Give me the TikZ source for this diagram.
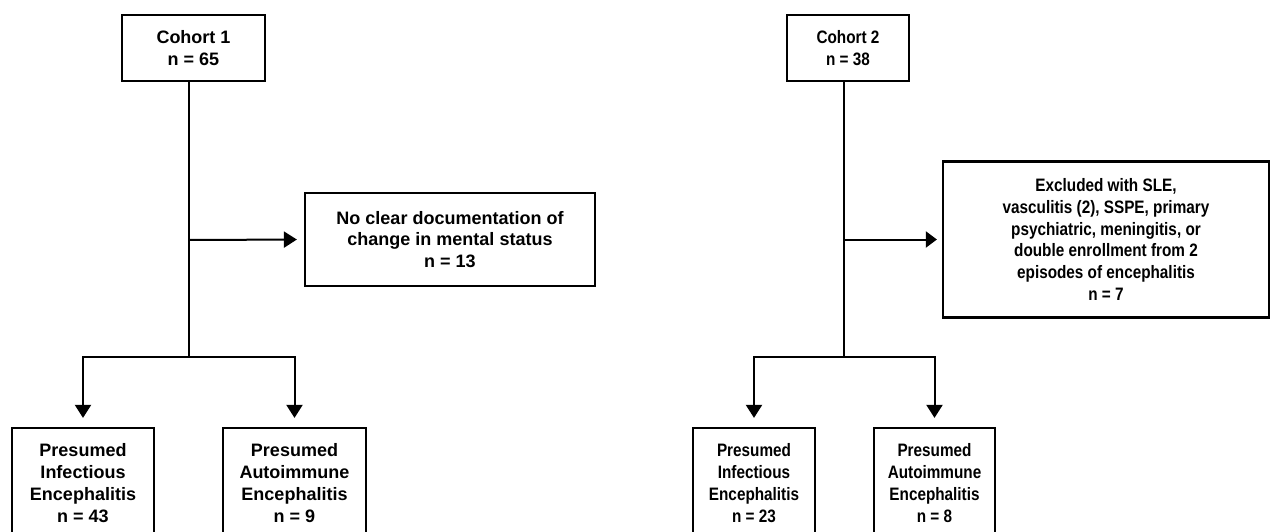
\documentclass[tikz,border=0pt]{standalone}
\usepackage{fontspec}
\setmainfont{Liberation Sans}
\newfontfamily\condfont[FakeStretch=0.85]{Liberation Sans}
\usetikzlibrary{arrows.meta}
\tikzset{
  box/.style={draw=black, line width=2.2pt, rectangle, align=center, inner sep=0pt,
    font=\fontsize{18}{21.8}\selectfont\bfseries},
  cbox/.style={box, font=\condfont\fontsize{18}{21.8}\selectfont\bfseries},
  link/.style={draw=black, line width=2pt},
  arr/.style={link, -{Triangle[width=16pt,length=13pt]}},
  carr/.style={link, -{Triangle[width=16pt,length=11pt]}}
}
\begin{document}
\begin{tikzpicture}[x=1pt,y=-1pt]
\useasboundingbox (0,0) rectangle (1272,532);
\clip (0,0) rectangle (1272,532);
% ---------- Cohort 1 ----------
\node[box, minimum width=143pt, minimum height=66pt] (c1) at (193.5,48) {Cohort 1\\n = 65};
\node[box, minimum width=290pt, minimum height=93pt] (x1) at (450,239.5) {No clear documentation of\\change in mental status\\n = 13};
\node[box, minimum width=142pt, minimum height=110pt] (a1) at (83,483) {Presumed\\Infectious\\Encephalitis\\n = 43};
\node[box, minimum width=143pt, minimum height=110pt] (b1) at (294.5,483) {Presumed\\Autoimmune\\Encephalitis\\n = 9};
\coordinate (k1) at (189,240);
\coordinate (j1) at (189,357);
\draw[link] (c1.south -| j1) -- (j1);
\draw[arr, shorten >=7pt] (k1) -- (x1.west);
\draw[arr, shorten >=9pt] (j1) -| (a1.north);
\draw[arr, shorten >=9pt] (j1) -| (b1.north);
% ---------- Cohort 2 ----------
\node[cbox, minimum width=122pt, minimum height=66pt] (c2) at (848,48) {Cohort 2\\n = 38};
\node[cbox, minimum width=326pt, minimum height=156pt] (x2) at (1106,239.5) {Excluded with SLE,\\vasculitis (2), SSPE, primary\\psychiatric, meningitis, or\\double enrollment from 2\\episodes of encephalitis\\n = 7};
\node[cbox, minimum width=122pt, minimum height=110pt] (a2) at (754,483) {Presumed\\Infectious\\Encephalitis\\n = 23};
\node[cbox, minimum width=121pt, minimum height=110pt] (b2) at (934.5,483) {Presumed\\Autoimmune\\Encephalitis\\n = 8};
\coordinate (k2) at (844,239.5);
\coordinate (j2) at (844,357);
\draw[link] (c2.south -| j2) -- (j2);
\draw[carr, shorten >=5pt] (k2) -- (x2.west);
\draw[arr, shorten >=9pt] (j2) -| (a2.north);
\draw[arr, shorten >=9pt] (j2) -| (b2.north);
\end{tikzpicture}
\end{document}
